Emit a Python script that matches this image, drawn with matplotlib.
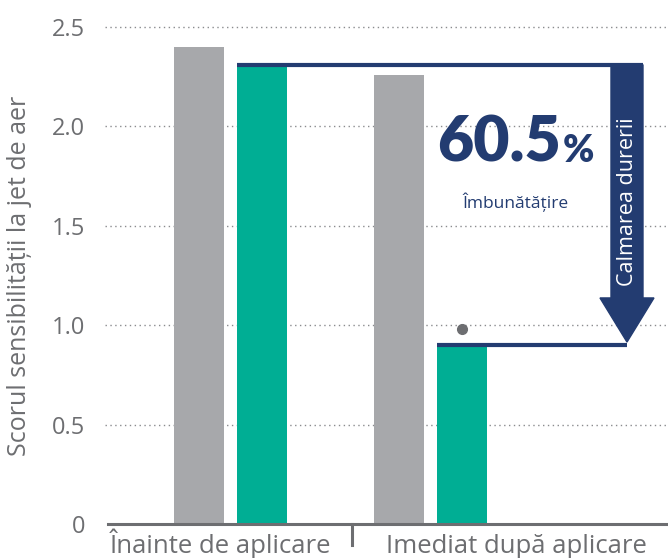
import matplotlib
matplotlib.use("Agg")
import matplotlib.pyplot as plt
from matplotlib.patches import Polygon

plt.rcParams['font.family'] = ['Open Sans', 'DejaVu Sans']

# ------------------------------ Data ------------------------------
groups = ['Înainte de aplicare', 'Imediat după aplicare']
gray_vals = [2.40, 2.26]
green_vals = [2.31, 0.90]
improvement = '60.5'
y_ticks = [0, 0.5, 1.0, 1.5, 2.0, 2.5]
y_tick_labels = ['0', '0.5', '1.0', '1.5', '2.0', '2.5']

GRAY = '#a7a8ab'
GREEN = '#00ae94'
NAVY = '#233c71'
TEXT = '#6d6e71'

# ------------------------------ Figure ------------------------------
fig = plt.figure(figsize=(6.68, 5.58), dpi=100)
ax = fig.add_axes([0.157, 0.061, 0.843, 0.8906])

x = [0, 1]
w = 0.25
off = 0.1575
ax.bar([i - off for i in x], gray_vals, width=w, color=GRAY, zorder=2)
ax.bar([i + off for i in x], green_vals, width=w, color=GREEN, zorder=2)

ax.set_xlim(-0.6275, 2.1875)
ax.set_ylim(0, 2.5)

# dotted grid
for t in y_ticks[1:]:
    ax.axhline(t, color='#8a8b8e', lw=1.0, ls=(0, (1, 2.5)), zorder=1, clip_on=False)

ax.set_yticks(y_ticks)
ax.set_yticklabels(y_tick_labels, fontsize=17, color=TEXT)
ax.tick_params(axis='y', length=0, pad=14)
ax.set_xticks([])
for s in ['top', 'right', 'left']:
    ax.spines[s].set_visible(False)
ax.spines['bottom'].set_color(TEXT)
ax.spines['bottom'].set_linewidth(2.2)
ax.spines['bottom'].set_bounds(-0.6125, 2.1875)

ax.set_ylabel('Scorul sensibilității la jet de aer', fontsize=18, color=TEXT)
ax.yaxis.set_label_coords(-0.151, 0.5)
ax.yaxis.label.set_va('center')

# category separator and labels
ax.plot([0.6075, 0.6075], [0, -0.105], color=TEXT, lw=2.2, clip_on=False)
ax.text(-0.0525, -0.145, groups[0], ha='center', va='baseline', fontsize=18.5, color=TEXT)
ax.text(1.4275, -0.145, groups[1], ha='center', va='baseline', fontsize=18.5, color=TEXT)

# significance dot
ax.plot([1 + off], [green_vals[1] + 0.08], 'o', color=TEXT, ms=7, zorder=4)

# ------------------------------ Improvement arrow ------------------------------
top = green_vals[0]
bot = green_vals[1]
ax_c = 1.9825
shaft_hw = 0.08
head_hw = 0.135
head_base = 1.137
ax.plot([0 + off - w / 2, ax_c + shaft_hw], [top, top], color=NAVY, lw=3, zorder=3,
        solid_capstyle='butt')
ax.plot([1 + off - w / 2, ax_c], [bot, bot], color=NAVY, lw=3, zorder=3,
        solid_capstyle='butt')
arrow = Polygon([(ax_c - shaft_hw, top), (ax_c + shaft_hw, top),
                 (ax_c + shaft_hw, head_base), (ax_c + head_hw, head_base),
                 (ax_c, bot + 0.015), (ax_c - head_hw, head_base),
                 (ax_c - shaft_hw, head_base)],
                closed=True, color=NAVY, zorder=3, clip_on=False)
ax.add_patch(arrow)
ax.text(ax_c + 0.005, 1.62, 'Calmarea durerii', rotation=90, ha='center', va='center',
        fontsize=15.5, color='white', zorder=4)

ax.text(1.6525, 1.821, improvement, ha='right', va='baseline', fontsize=45,
        fontweight='heavy', color=NAVY, family=['Lato', 'DejaVu Sans'])
ax.text(1.66, 1.821, '%', ha='left', va='baseline', fontsize=27,
        fontweight='heavy', color=NAVY, family=['Lato', 'DejaVu Sans'])
ax.text(1.4225, 1.62, 'Îmbunătățire', ha='center', va='center', fontsize=12.5, color=NAVY)

fig.savefig('out.png', dpi=100)
